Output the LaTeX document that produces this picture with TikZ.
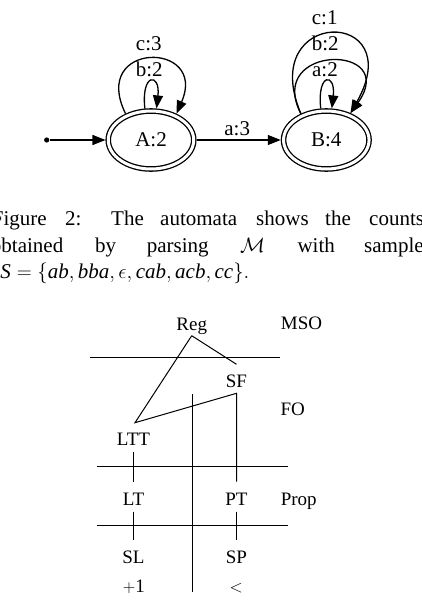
\documentclass[tikz,border=0pt]{standalone}
\usepackage{fontspec}
\setmainfont{Liberation Serif}
\usetikzlibrary{arrows.meta,shapes.geometric}

\begin{document}
\begin{tikzpicture}[x=1pt,y=-1pt,
  stnode/.style={ellipse, draw, double, double distance=3pt, line width=1.3pt,
    minimum width=85.5pt, minimum height=58pt, inner sep=0pt, outer sep=2.8pt,
    font=\fontsize{21}{25}\selectfont},
  trans/.style={line width=1.3pt, -{Triangle[length=13pt,width=10pt]}},
  elabel/.style={anchor=base, inner sep=0pt, font=\fontsize{21}{25}\selectfont},
  captext/.style={anchor=base west, inner sep=0pt, font=\fontsize{21}{25}\selectfont},
  cls/.style={anchor=base, inner sep=0pt, font=\fontsize{19}{23}\selectfont},
  sepline/.style={line width=1pt},
]
\useasboundingbox (0,0) rectangle (421,611);
\clip (0,0) rectangle (421,611);

% ---------- automaton ----------
\node[circle, fill, inner sep=0pt, minimum size=5.2pt] (start) at (46.7,140) {};
\node[stnode] (A) at (151,140) {A:2};
\node[stnode] (B) at (326.3,140) {B:4};

\draw[trans] (start) -- (A);
\draw[trans] (A) -- (B);
\node[elabel] (la3) at (237.2,135) {a:3};

% self loops on A
\draw[trans] (A.101.7) .. controls +(-4,-36) and +(4,-36) .. (A.80);
\draw[trans] (A.134) .. controls +(-36,-73) and +(32,-73) .. (A.46);
\node[elabel] (lb2a) at (149.2,76.5) {b:2};
\node[elabel] (lc3) at (148.8,50) {c:3};

% self loops on B
\draw[trans] (B.100) .. controls +(-4,-36) and +(4,-36) .. (B.80);
\draw[trans] (B.134) .. controls +(-36,-70) and +(50,-70) .. (B.48);
\draw[trans] (B.134) .. controls +(-45,-107) and +(60,-106) .. (B.48);
\node[elabel] (la2) at (325,76) {a:2};
\node[elabel] (lb2b) at (325.3,50) {b:2};
\node[elabel] (lc1) at (324.7,24) {c:1};

% ---------- caption ----------
\node[captext, anchor=base east] (w11) at (47,225) {Figure};
\node[captext] (w12) at (65,225) {2:};
\node[captext] (w13) at (111,225) {The};
\node[captext] (w14) at (160,225) {automata};
\node[captext] (w15) at (256,225) {shows};
\node[captext] (w16) at (325,225) {the};
\node[captext] (w17) at (369,225) {counts};

\node[captext, anchor=base east] (w21) at (63.5,252) {obtained};
\node[captext] (w22) at (95,252) {by};
\node[captext] (w23) at (146.7,252) {parsing};
\node[captext, anchor=base] (w24) at (252.5,252) {$\mathcal{M}$};
\node[captext] (w25) at (297.3,252) {with};
\node[captext] (w26) at (364,252) {sample};

\node[captext, anchor=base east] (w31) at (249.5,278)
  {$\textit{S}=\{\textit{ab},\textit{bba},\epsilon,\textit{cab},\textit{acb},\textit{cc}\}.$};

% ---------- hierarchy ----------
\node[cls] (Reg) at (191.7,330) {Reg};
\node[cls] (MSO) at (301.5,329) {MSO};
\node[cls] (SF) at (236.5,387.7) {SF};
\node[cls] (FO) at (292.8,415) {FO};
\node[cls] (LTT) at (133.5,445.7) {LTT};
\node[cls] (LT) at (133.5,505) {LT};
\node[cls] (PT) at (236.5,505) {PT};
\node[cls] (Prop) at (298.7,505) {Prop};
\node[cls] (SL) at (133.5,563.3) {SL};
\node[cls] (SP) at (236.5,563.3) {SP};
\node[cls] (succ) at (133.8,592) {$+$1};
\node[cls] (prec) at (236.3,592) {$<$};

\draw[sepline] ([yshift=-5.7pt]Reg.base) -- ([yshift=23.4pt]SF.base);
\draw[sepline] ([yshift=-5.7pt]Reg.base) -- ([xshift=1.5pt,yshift=23pt]LTT.base)
  -- ([yshift=-5.6pt]SF.base) -- ([yshift=23.3pt]PT.base);
\draw[sepline] ([yshift=-6pt]LTT.base) -- ([yshift=23.3pt]LT.base);
\draw[sepline] ([yshift=-6.7pt]LT.base) -- ([yshift=23.3pt]SL.base);
\draw[sepline] ([yshift=-6.7pt]PT.base) -- ([yshift=23.3pt]SP.base);

\coordinate (h1l) at (90,357.3);   \coordinate (h1r) at (280,357.3);
\coordinate (h2l) at (97.3,466.7); \coordinate (h2r) at (287.7,466.7);
\coordinate (h3l) at (97.3,525.7); \coordinate (h3r) at (287.7,525.7);
\coordinate (vt) at (192.7,394.3); \coordinate (vb) at (192.7,591.7);
\draw[sepline] (h1l) -- (h1r);
\draw[sepline] (h2l) -- (h2r);
\draw[sepline] (h3l) -- (h3r);
\draw[sepline] (vt) -- (vb);
\end{tikzpicture}
\end{document}
